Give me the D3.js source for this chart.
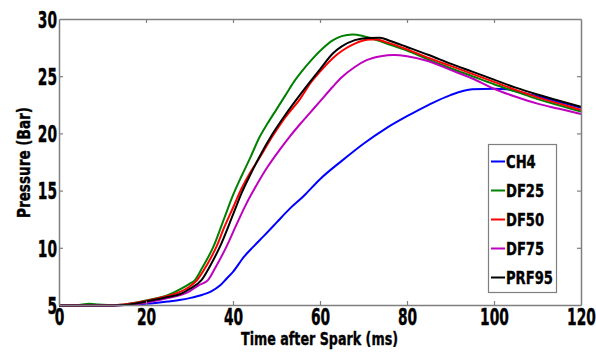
<!DOCTYPE html>
<html><head><meta charset="utf-8">
<script src="https://cdn.jsdelivr.net/npm/d3@7"></script>
<style>
html,body{margin:0;padding:0;background:#fff;}
svg text{font-family:"DejaVu Sans",sans-serif;font-weight:bold;fill:#000;stroke:#000;stroke-width:0.4px;}
</style></head>
<body>
<svg id="c" width="596" height="352"></svg>
<script>
// Data (time in ms, pressure in bar)
const seriesNames = ["CH4", "DF25", "DF50", "DF75", "PRF95"];
const seriesColors = ["#0000ff", "#008000", "#ff0000", "#bf00bf", "#000000"];
const xTicks = [0, 20, 40, 60, 80, 100, 120];
const yTicks = [5, 10, 15, 20, 25, 30];

const ch4 = [[0,4.95],[5,4.95],[10,4.95],[15,5.0],[20,5.1],[25,5.3],[28,5.45],[30,5.6],[33,5.9],[35,6.2],[37,6.7],[38.5,7.3],[40,7.9],[42.5,9.2],[44.7,10.1],[47,11.0],[50,12.2],[53,13.4],[56.2,14.5],[60,16.0],[65,17.6],[70,19.1],[75,20.4],[80,21.5],[85,22.5],[90,23.35],[95,23.85],[100,23.9],[103,23.85],[106,23.6],[110,23.25],[115,22.75],[120,22.25]];
const df25 = [[0,4.95],[4,4.98],[7,5.1],[9,5.05],[12,4.98],[15,5.05],[20,5.4],[25,5.85],[28,6.4],[30,6.85],[31.3,7.2],[33,8.3],[35.5,10.1],[38,12.6],[40,14.6],[42,16.3],[44,17.9],[46,19.6],[48,20.9],[50,22.1],[52,23.3],[54,24.5],[56,25.5],[58,26.4],[60,27.2],[63,28.15],[65,28.5],[67.5,28.65],[70,28.5],[72,28.3],[75,27.9],[80,27.25],[85,26.45],[90,25.7],[95,25.0],[100,24.3],[105,23.65],[110,23.0],[115,22.45],[120,21.9]];
const df50 = [[0,4.95],[10,4.95],[15,5.05],[20,5.35],[24,5.7],[27,6.02],[30,6.6],[31.8,7.2],[34,8.5],[36.2,10.1],[38,11.8],[40,13.5],[42,15.2],[44,16.6],[46,17.8],[49,19.7],[52,21.4],[55.4,23.0],[58,24.5],[60,25.4],[63,26.6],[65,27.2],[68,27.85],[71.5,28.2],[73,28.2],[75,28.0],[80,27.35],[85,26.6],[90,25.9],[95,25.2],[100,24.5],[105,23.8],[110,23.15],[115,22.6],[120,22.05]];
const df75 = [[0,4.95],[10,4.95],[15,5.0],[20,5.2],[22.5,5.4],[25,5.6],[29,6.02],[30,6.2],[32,6.7],[34.3,7.2],[36,8.3],[38.5,10.1],[41,12.2],[43,13.8],[45,15.2],[48,17.1],[50.8,18.6],[53,19.7],[55.4,20.8],[57.7,21.8],[60,22.8],[63,24.1],[65,24.9],[68,25.8],[70.7,26.4],[74,26.75],[77,26.85],[80,26.75],[85,26.3],[90,25.55],[95,24.8],[100,23.9],[105,23.2],[110,22.6],[115,22.15],[120,21.7]];
const prf95 = [[0,4.95],[10,4.95],[15,5.0],[20,5.3],[25,5.7],[28.1,6.0],[30,6.4],[32.8,7.2],[35,8.6],[37,10.1],[40,12.9],[42,14.8],[44,16.4],[46,17.9],[49,19.9],[52,21.6],[55.4,23.36],[57.7,24.5],[60,25.6],[63,27.0],[65,27.6],[68,28.15],[71,28.35],[73.8,28.37],[76,28.1],[80,27.55],[85,26.85],[90,26.1],[95,25.4],[100,24.7],[105,24.0],[110,23.4],[115,22.85],[120,22.33]];
const seriesData = [ch4, df25, df50, df75, prf95];

const svg = d3.select("#c");
const L = 59, R = 581, T = 19, B = 305;
const x = d3.scaleLinear().domain([0, 120]).range([L, R]);
const y = d3.scaleLinear().domain([5, 30]).range([B, T]);
const axisColor = "#7f7f7f";

// squeeze text horizontally to mimic the condensed face of the original
function squeeze(sel, factor, target) {
  sel.each(function () {
    const w = this.getComputedTextLength();
    const t = target != null ? target : w * factor;
    this.setAttribute("textLength", t);
    this.setAttribute("lengthAdjust", "spacingAndGlyphs");
  });
}

// curves
const line = d3.line().x(d => x(d[0])).y(d => y(d[1])).curve(d3.curveMonotoneX);
seriesData.forEach((s, i) => {
  svg.append("path").datum(s)
    .attr("fill", "none").attr("stroke", seriesColors[i])
    .attr("stroke-width", 2).attr("stroke-linejoin", "round").attr("d", line);
});

// axes
function styleAxis(g) {
  g.select(".domain").attr("stroke", axisColor).attr("stroke-width", 1.5);
  g.selectAll(".tick line").attr("stroke", axisColor).attr("stroke-width", 1.2);
}
const gx = svg.append("g").attr("transform", `translate(0,${B})`)
  .call(d3.axisBottom(x).tickValues(xTicks).tickSizeInner(-4).tickSizeOuter(0));
styleAxis(gx);
gx.selectAll("text").attr("font-size", 23).attr("y", 3).attr("dy", "0.73em")
  .attr("font-family", "DejaVu Sans").attr("font-weight", "bold");
squeeze(gx.selectAll("text"), 0.6);
gx.selectAll(".tick").filter(d => d === 120).select("line").remove();

const gxt = svg.append("g").attr("transform", `translate(0,${T})`)
  .call(d3.axisTop(x).tickValues(xTicks).tickSizeInner(-4).tickSizeOuter(0).tickFormat(""));
styleAxis(gxt);
gxt.selectAll(".tick").filter(d => d === 0 || d === 120).select("line").remove();

const gy = svg.append("g").attr("transform", `translate(${L},0)`)
  .call(d3.axisLeft(y).tickValues(yTicks).tickSizeInner(-4).tickSizeOuter(0));
styleAxis(gy);
gy.selectAll("text").attr("font-size", 23).attr("x", -2).attr("dy", "0.36em")
  .attr("font-family", "DejaVu Sans").attr("font-weight", "bold");
squeeze(gy.selectAll("text"), 0.6);
gy.selectAll(".tick").filter(d => d === 5 || d === 30).select("line").remove();

const gyr = svg.append("g").attr("transform", `translate(${R},0)`)
  .call(d3.axisRight(y).tickValues(yTicks).tickSizeInner(-4).tickSizeOuter(0).tickFormat(""));
styleAxis(gyr);
gyr.selectAll(".tick").filter(d => d === 5 || d === 30).select("line").remove();

// axis titles
const xt = svg.append("text").attr("x", 319.5).attr("y", 345).attr("text-anchor", "middle")
  .attr("font-size", 18).text("Time after Spark (ms)");
squeeze(xt, null, 157);
const yt = svg.append("text").attr("transform", `translate(30,162.5) rotate(-90)`)
  .attr("text-anchor", "middle").attr("font-size", 18).text("Pressure (Bar)");
squeeze(yt, null, 111);

// legend
const lg = svg.append("g");
lg.append("rect").attr("x", 488.5).attr("y", 144.5).attr("width", 68).attr("height", 148)
  .attr("fill", "#fff").attr("stroke", axisColor).attr("stroke-width", 1.2);
seriesNames.forEach((n, i) => {
  const yy = 161.5 + i * 29;
  lg.append("line").attr("x1", 491).attr("x2", 505).attr("y1", yy).attr("y2", yy)
    .attr("stroke", seriesColors[i]).attr("stroke-width", 2);
  const t = lg.append("text").attr("x", 506).attr("y", yy).attr("dy", "0.38em")
    .attr("font-size", 17.5).text(n);
  squeeze(t, 0.75);
});
</script>
</body></html>
